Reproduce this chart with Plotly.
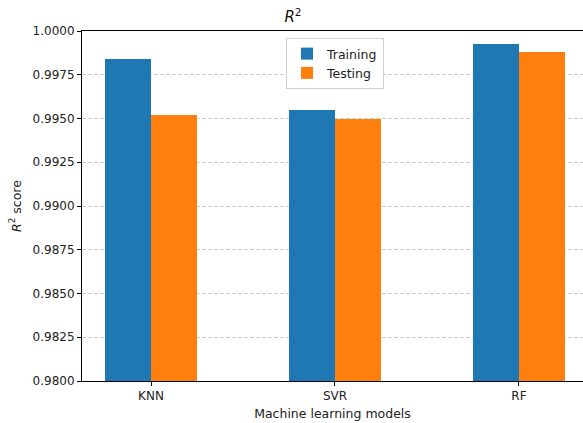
import plotly.graph_objects as go

# Model scores
models = ["KNN", "SVR", "RF"]
training_r2 = [0.9984, 0.99549, 0.99926]
testing_r2 = [0.9952, 0.99497, 0.9988]
y_ticks = [0.98, 0.9825, 0.985, 0.9875, 0.99, 0.9925, 0.995, 0.9975, 1.0]

bar_width = 0.25
x_pos = list(range(len(models)))

fig = go.Figure()
fig.add_trace(go.Bar(
    x=[x - bar_width / 2 for x in x_pos], y=training_r2, width=bar_width,
    name="Training", marker=dict(color="#1f77b4", line=dict(width=0)),
))
fig.add_trace(go.Bar(
    x=[x + bar_width / 2 for x in x_pos], y=testing_r2, width=bar_width,
    name="Testing", marker=dict(color="#ff7f0e", line=dict(width=0)),
))

font = "DejaVu Sans"
fig.update_layout(
    width=583, height=423,
    margin=dict(l=82, r=0, t=31, b=42),
    plot_bgcolor="white", paper_bgcolor="white",
    font=dict(family=font, size=12, color="#222"),
    barmode="overlay",
    bargap=0,
    title=dict(text="<i>R</i><sup>2</sup>", x=0.5025, xanchor="center",
               y=1 - 17 / 423, yanchor="middle", font=dict(size=15, color="#111")),
    legend=dict(
        x=0.505, xanchor="center", y=0.98, yanchor="top",
        bgcolor="rgba(255,255,255,0.85)", bordercolor="#d0d0d0", borderwidth=1,
        font=dict(size=12.5, color="#222"), tracegroupgap=2,
    ),
    showlegend=True,
)
fig.update_xaxes(
    range=[-0.375, 2.348],
    tickvals=x_pos, ticktext=models,
    showline=True, linecolor="black", linewidth=1, mirror=True,
    ticks="outside", ticklen=4, tickcolor="black",
    showgrid=False, zeroline=False,
    title=dict(text="Machine learning models", font=dict(size=12.5), standoff=6),
)
fig.update_yaxes(
    range=[0.98, 1.0],
    tickvals=y_ticks, tickformat=".4f",
    showline=True, linecolor="black", linewidth=1,
    ticks="outside", ticklen=4, tickcolor="black",
    showgrid=True, gridcolor="rgba(190,190,190,0.75)", griddash="4px,2px", gridwidth=1,
    zeroline=False,
    title=dict(text="<i>R</i><sup>2</sup> score", font=dict(size=12.5), standoff=8),
)

fig.write_html("out.html")
